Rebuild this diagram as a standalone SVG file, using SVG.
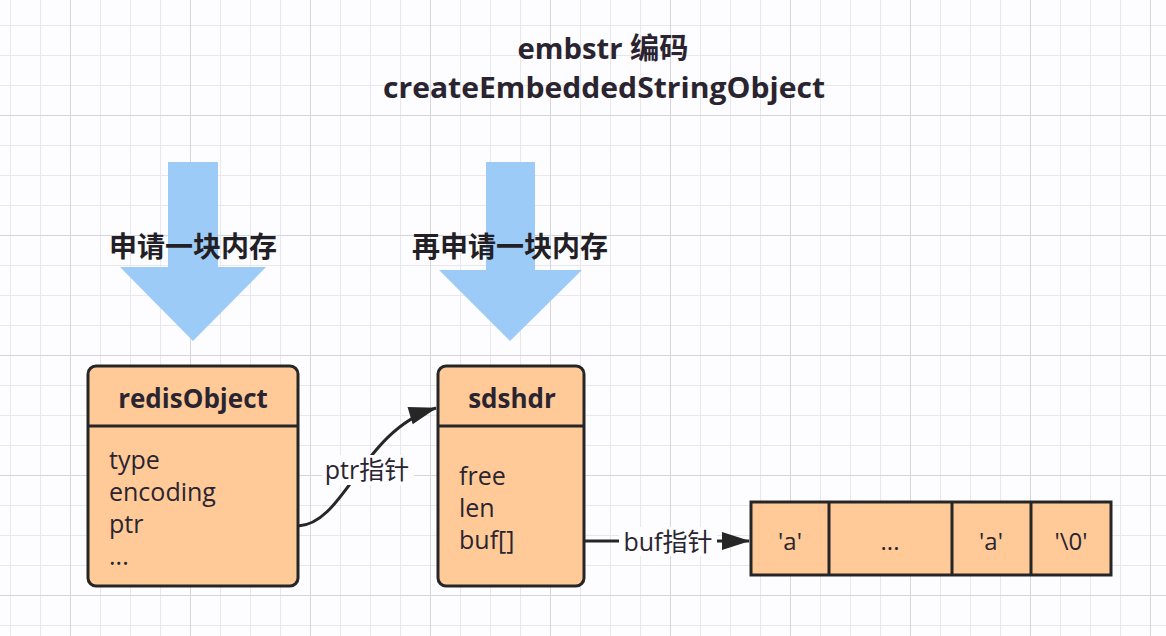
<svg xmlns="http://www.w3.org/2000/svg" width="1166" height="636" viewBox="0 0 1166 636">
  <defs>
    <pattern id="gridSmall" x="10" y="25" width="30" height="30" patternUnits="userSpaceOnUse">
      <rect x="0" y="0" width="1" height="30" fill="#e8e7ec"/>
      <rect x="0" y="0" width="30" height="1" fill="#e8e7ec"/>
    </pattern>
    <pattern id="gridBig" x="70" y="115" width="120" height="120" patternUnits="userSpaceOnUse">
      <rect x="0" y="0" width="1" height="120" fill="#d6d5dc"/>
      <rect x="0" y="0" width="120" height="1" fill="#d6d5dc"/>
    </pattern>
    <marker id="arrowHead" viewBox="0 0 28 18" refX="27" refY="9" markerWidth="28" markerHeight="18" markerUnits="userSpaceOnUse" orient="auto" overflow="visible">
      <path d="M0,0 L28,9 L0,18 Z" fill="#262626"/>
    </marker>
    <style>
      .txt { font-family: "Open Sans", "Noto Sans", "Noto Sans CJK SC", sans-serif; fill: #2a2430; }
      .title { font-size: 29px; font-weight: 700; text-anchor: middle; }
      .lbl { font-size: 28px; font-weight: 700; text-anchor: middle; font-family: "Noto Sans CJK SC", sans-serif; fill: #231f26; }
      .head { font-size: 26px; font-weight: 700; text-anchor: middle; }
      .body { font-size: 25px; font-weight: 400; }
      .cell { font-size: 24px; font-weight: 400; text-anchor: middle; }
      .conlbl { font-size: 25px; font-weight: 400; text-anchor: middle; }
      .box { fill: #ffca98; stroke: #262626; stroke-width: 3; }
      .div { stroke: #262626; stroke-width: 3; fill: none; }
      .bigArrow { fill: #9dcbf7; }
      .conn { fill: none; stroke: #262626; stroke-width: 3; }
    </style>
  </defs>

  <rect x="0" y="0" width="1166" height="636" fill="#fdfcfe"/>
  <rect x="0" y="0" width="1166" height="636" fill="url(#gridSmall)"/>
  <rect x="0" y="0" width="1166" height="636" fill="url(#gridBig)"/>

  <g id="title">
    <text class="txt title" x="603" y="59" textLength="171" lengthAdjust="spacingAndGlyphs">embstr 编码</text>
    <text class="txt title" x="604" y="98" textLength="442" lengthAdjust="spacingAndGlyphs">createEmbeddedStringObject</text>
  </g>

  <g id="arrow1">
    <polygon class="bigArrow" points="168,162 218,162 218,267 266,267 193,341 120,267 168,267"/>
    <text class="lbl" x="193" y="257">申请一块内存</text>
  </g>

  <g id="arrow2">
    <polygon class="bigArrow" points="486,162 535,162 535,270 582,270 510,341 439,270 486,270"/>
    <text class="lbl" x="510" y="257">再申请一块内存</text>
  </g>

  <g id="redisObject">
    <rect class="box" x="88" y="366" width="210" height="220" rx="8" ry="8"/>
    <line class="div" x1="88" y1="426" x2="298" y2="426"/>
    <text class="txt head" x="193" y="408">redisObject</text>
    <text class="txt body" x="109" y="469">type</text>
    <text class="txt body" x="109" y="501">encoding</text>
    <text class="txt body" x="109" y="533">ptr</text>
    <text class="txt body" x="109" y="565">...</text>
  </g>

  <g id="sdshdr">
    <rect class="box" x="438" y="366" width="146" height="220" rx="8" ry="8"/>
    <line class="div" x1="438" y1="426" x2="584" y2="426"/>
    <text class="txt head" x="512" y="408">sdshdr</text>
    <text class="txt body" x="459" y="485">free</text>
    <text class="txt body" x="459" y="517">len</text>
    <text class="txt body" x="459" y="549">buf[]</text>
  </g>

  <g id="buffer">
    <rect class="box" x="751" y="502" width="360" height="73"/>
    <line class="div" x1="829" y1="502" x2="829" y2="575"/>
    <line class="div" x1="952" y1="502" x2="952" y2="575"/>
    <line class="div" x1="1031" y1="502" x2="1031" y2="575"/>
    <text class="txt cell" x="790" y="550">'a'</text>
    <text class="txt cell" x="890" y="550">...</text>
    <text class="txt cell" x="991" y="550">'a'</text>
    <text class="txt cell" x="1071" y="550">'\0'</text>
  </g>

  <g id="connectors">
    <path class="conn" d="M298,526 C345,524 362,430 436,408" marker-end="url(#arrowHead)"/>
    <rect x="322" y="455" width="92" height="30" fill="#fdfcfe"/>
    <text class="txt conlbl" x="367" y="479">ptr指针</text>

    <path class="conn" d="M584,541 L749,541" marker-end="url(#arrowHead)"/>
    <rect x="619" y="527" width="98" height="29" fill="#fdfcfe"/>
    <text class="txt conlbl" x="668" y="551">buf指针</text>
  </g>
</svg>
